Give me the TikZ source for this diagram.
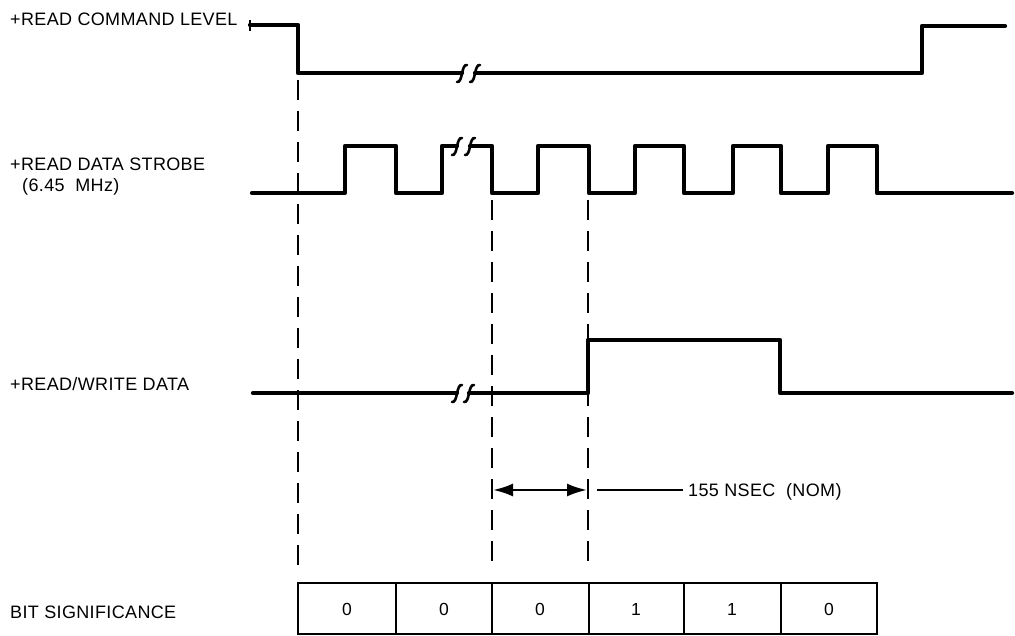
\documentclass[tikz,border=0pt]{standalone}
\usepackage{fontspec}
\setmainfont[LetterSpace=2]{Liberation Sans}
\usetikzlibrary{arrows.meta}
\begin{document}
\begin{tikzpicture}[x=1pt,y=-1pt,
  sig/.style={line width=4.2pt, line join=round, line cap=round},
  guide/.style={line width=2.2pt, dash pattern=on 20pt off 11pt},
  brk/.style={line width=2.6pt, line cap=round},
  lbl/.style={anchor=base west, inner sep=0pt, font=\fontsize{18}{20}\selectfont},
  bit/.style={inner sep=0pt, font=\fontsize{17.5}{19}\selectfont},
  brkmark/.pic={\draw[brk] (-5,9) .. controls (1,10) and (-1,-9) .. (5,-8);}]
\useasboundingbox (0,0) rectangle (1015,636);

% labels
\node[lbl] (lcmd) at (10,26) {+READ COMMAND LEVEL};
\node[lbl] (lstr) at (10,171) {+READ DATA STROBE};
\node[lbl] (lmhz) at (22,192) {(6.45 \ MHz)};
\node[lbl] (lrw) at (10,390) {+READ/WRITE DATA};
\node[lbl] (lbit) at (10,618) {BIT SIGNIFICANCE};

% guides (dashed)
\coordinate (g1t) at (298,80);  \coordinate (g1b) at (298,571);
\coordinate (g2t) at (492,200); \coordinate (g2b) at (492,566);
\coordinate (g3t) at (588,200); \coordinate (g3b) at (588,570);
\draw[guide] (g1t) -- (g1b);
\draw[guide] (g2t) -- (g2b);
\draw[guide] (g3t) -- (g3b);

% +READ COMMAND LEVEL
\draw[line width=2.2pt] (250,20) -- (250,31);
\draw[sig] (250,25) -- (298,25) -- (298,73) -- (462,73);
\draw[sig] (475,73) -- (922,73) -- (922,26) -- (1005,26);
\pic at (462,73) {brkmark};
\pic at (475,73) {brkmark};

% +READ DATA STROBE
\draw[sig] (252,193) -- (345,193) -- (345,146) -- (396,146) -- (396,193)
  -- (442,193) -- (442,146) -- (457,146);
\draw[sig] (470,146) -- (492,146) -- (492,193) -- (538,193) -- (538,146)
  -- (589,146) -- (589,193) -- (635,193) -- (635,146) -- (684,146) -- (684,193)
  -- (733,193) -- (733,146) -- (781,146) -- (781,193) -- (828,193) -- (828,146)
  -- (877,146) -- (877,193) -- (1012,193);
\pic at (457,146) {brkmark};
\pic at (470,146) {brkmark};

% +READ/WRITE DATA
\draw[sig] (253,393) -- (457,393);
\draw[sig] (469,393) -- (588,393) -- (588,340) -- (780,340) -- (780,393) -- (1012,393);
\pic at (457,393) {brkmark};
\pic at (469,393) {brkmark};

% timing arrow
\coordinate (al) at (493,490);
\coordinate (ar) at (587,490);
\draw[line width=2.4pt, {Latex[length=20pt,width=13pt]}-{Latex[length=20pt,width=13pt]}] (al) -- (ar);
\node[lbl] (tns) at (688,496) {155 NSEC \ (NOM)};
\coordinate (ls) at (597,490);
\draw[line width=1.5pt] (ls) -- (683,490);

% bit significance box
\draw[line width=2.8pt] (298,583) rectangle (877,634);
\foreach \x in {396,492,589,684,781} \draw[line width=2pt] (\x,583) -- (\x,634);
\node[bit] (b1) at (347,609) {0};
\node[bit] (b2) at (444,609) {0};
\node[bit] (b3) at (540,609) {0};
\node[bit] (b4) at (636,609) {1};
\node[bit] (b5) at (732,609) {1};
\node[bit] (b6) at (829,609) {0};
\end{tikzpicture}
\end{document}
